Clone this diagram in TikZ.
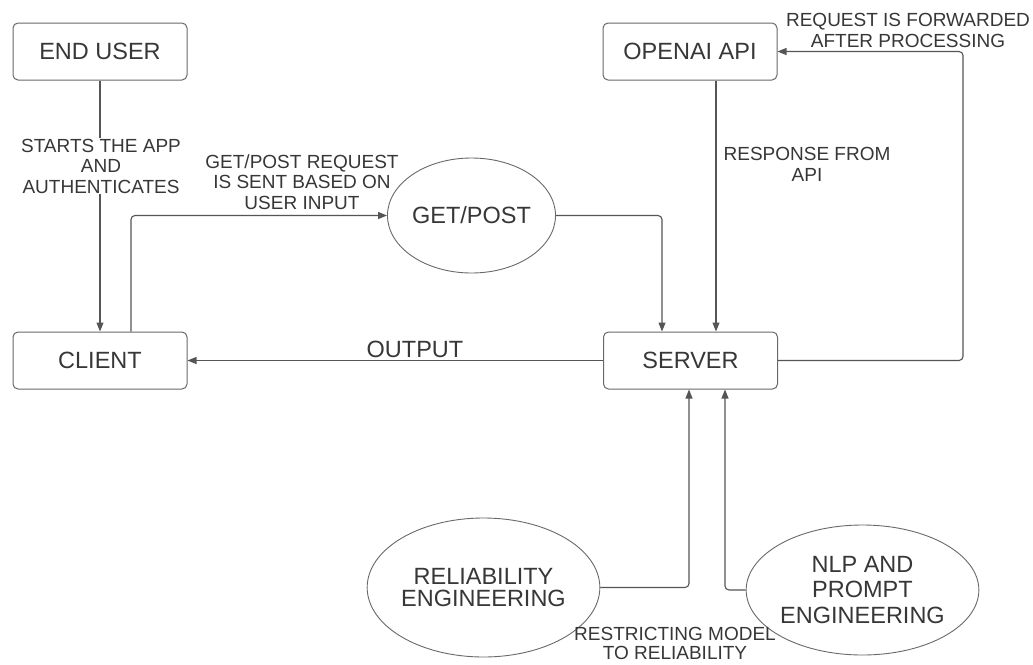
\documentclass[tikz,border=0pt]{standalone}
\usepackage{fontspec}
\setmainfont{Liberation Sans}
\usetikzlibrary{arrows.meta,shapes.geometric}
\definecolor{lc}{RGB}{85,85,85}
\definecolor{bc}{RGB}{105,105,105}
\definecolor{tc}{RGB}{55,55,55}
\tikzset{
  boxnode/.style={draw=bc, line width=1pt, rounded corners=5pt, minimum width=174pt, minimum height=57pt, inner sep=0pt, text=tc, font=\fontsize{23.5}{24}\selectfont},
  ellnode/.style={draw=bc, line width=0.9pt, ellipse, inner sep=0pt, text=tc, align=center, font=\fontsize{23.5}{23}\selectfont},
  lbl/.style={text=tc, align=center, font=\fontsize{19}{20.5}\selectfont, inner sep=1pt},
  arr/.style={draw=lc, line width=1.1pt, -{Triangle[length=9pt,width=7pt]}, rounded corners=4pt}
}
\begin{document}
\begin{tikzpicture}[x=1pt,y=-1pt]
\useasboundingbox[fill=white] (0,0) rectangle (1033,664);
% nodes
\node[boxnode] (enduser) at (100,51.5) {END USER};
\node[boxnode] (client) at (100,360.5) {CLIENT};
\node[boxnode] (openai) at (690,51.5) {OPENAI API};
\node[boxnode] (server) at (690.5,360.5) {SERVER};
\node[ellnode, minimum width=131pt, minimum height=115pt] (getpost) at (471.5,215.5) {GET/POST};
\node[ellnode, minimum width=197pt, minimum height=139pt, font=\fontsize{23.5}{22}\selectfont] (rel) at (483.5,587.5) {RELIABILITY\\ENGINEERING};
\node[ellnode, minimum width=225pt, minimum height=130pt, font=\fontsize{23.5}{25.5}\selectfont] (nlp) at (862.5,590) {NLP AND\\PROMPT\\ENGINEERING};
\coordinate (fwd) at (963,360.5);
% connectors
\draw[arr] (enduser) -- (client);
\draw[arr] ([xshift=31pt]client.north) |- (getpost.west);
\draw[arr] (getpost.east) -| ([xshift=-28.5pt]server.north);
\draw[arr] ([xshift=26pt]openai.south) -- ([xshift=25.5pt]server.north);
\draw[arr] (server.east) -- (fwd) |- (openai.east);
\draw[arr] (server.west) -- (client.east);
\draw[arr] (rel.east) -| ([xshift=-1.5pt]server.south);
\draw[arr] (nlp.west) -| ([xshift=34.5pt]server.south);
% labels
\node[lbl, fill=white] (l1) at (101,166) {STARTS THE APP\\AND\\AUTHENTICATES};
\node[lbl] (l2) at (302,182) {GET/POST REQUEST\\IS SENT BASED ON\\USER INPUT};
\node[lbl] (l3) at (807,164.5) {RESPONSE FROM\\API};
\node[lbl] (l4) at (908,30.5) {REQUEST IS FORWARDED\\AFTER PROCESSING};
\node[lbl, font=\fontsize{23.5}{24}\selectfont] (l5) at (415,349) {OUTPUT};
\node[lbl, font=\fontsize{19}{19}\selectfont] (l6) at (675,643) {RESTRICTING MODEL\\TO RELIABILITY};
\end{tikzpicture}
\end{document}
